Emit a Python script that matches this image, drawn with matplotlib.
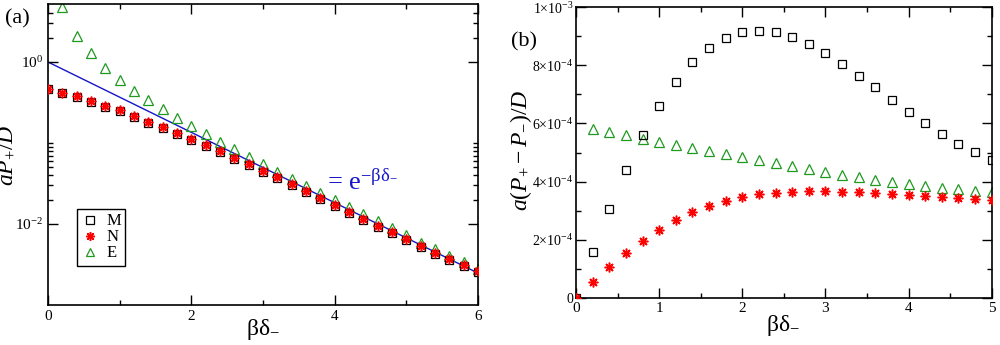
import numpy as np
import matplotlib
matplotlib.use("Agg")
import matplotlib.pyplot as plt
from matplotlib.ticker import FixedLocator, NullFormatter

plt.rcParams['font.family'] = ['Liberation Serif', 'DejaVu Serif']
plt.rcParams['mathtext.fontset'] = 'custom'
plt.rcParams['mathtext.rm'] = 'Liberation Serif'
plt.rcParams['mathtext.it'] = 'Liberation Serif:italic'
plt.rcParams['mathtext.bf'] = 'Liberation Serif:bold'
plt.rcParams['mathtext.fallback'] = 'stix'

# ---------------- data panel (a) ----------------
xa = [round(0.2 * i, 1) for i in range(31)]
Ma = [0.46, 0.41, 0.37, 0.32, 0.28, 0.245, 0.21, 0.178, 0.152, 0.129, 0.109,
      0.092, 0.077, 0.063, 0.053, 0.0443, 0.0366, 0.030, 0.0246, 0.0202, 0.0166,
      0.0138, 0.0112, 0.0093, 0.0077, 0.0063, 0.0052, 0.0043, 0.0036, 0.0030, 0.00257]
Na = [0.47, 0.42, 0.38, 0.33, 0.29, 0.252, 0.217, 0.183, 0.157, 0.133, 0.112,
      0.095, 0.079, 0.065, 0.0545, 0.0455, 0.0376, 0.031, 0.0253, 0.0207, 0.0170,
      0.0141, 0.0115, 0.0095, 0.0079, 0.0065, 0.0053, 0.0044, 0.0037, 0.0031, 0.00262]
xa_E = xa[1:]
Ea = [4.73, 2.11, 1.28, 0.85, 0.60, 0.44, 0.34, 0.263, 0.205, 0.162, 0.128, 0.104,
      0.0836, 0.0678, 0.0546, 0.0443, 0.0356, 0.0295, 0.024, 0.0196, 0.0162, 0.0133,
      0.0108, 0.0089, 0.0073, 0.0059, 0.0049, 0.0040, 0.0034, 0.0028]

# ---------------- data panel (b) ----------------
xb = [round(0.2 * i, 1) for i in range(26)]
Mb = [0.0, 1.58, 3.05, 4.40, 5.60, 6.60, 7.44, 8.10, 8.61, 8.94, 9.14, 9.19, 9.14,
      8.98, 8.73, 8.42, 8.06, 7.64, 7.24, 6.82, 6.40, 6.02, 5.65, 5.30, 5.01, 4.74]
Nb = [0.0, 0.53, 1.05, 1.53, 1.96, 2.33, 2.66, 2.94, 3.15, 3.32, 3.46, 3.56, 3.62,
      3.65, 3.66, 3.66, 3.65, 3.63, 3.61, 3.58, 3.54, 3.49, 3.46, 3.43, 3.40, 3.36]
xb_E = xb[1:]
Eb = [5.80, 5.69, 5.59, 5.48, 5.37, 5.27, 5.16, 5.05, 4.94, 4.84, 4.73, 4.63, 4.53,
      4.42, 4.33, 4.24, 4.15, 4.06, 3.98, 3.91, 3.84, 3.77, 3.73, 3.68, 3.63]
scale_b = 1e-4

yticks_b = [0, 2e-4, 4e-4, 6e-4, 8e-4, 1e-3]
yticklabels_b = ['0', r'2×10$^{-4}$', r'4×10$^{-4}$', r'6×10$^{-4}$',
                 r'8×10$^{-4}$', r'1×10$^{-3}$']

fig = plt.figure(figsize=(10, 3.45), dpi=100)
axA = fig.add_axes([0.048, 0.1159, 0.430, 0.8725])
axB = fig.add_axes([0.576, 0.1371, 0.4157, 0.8417])

mk_sq = dict(marker='s', ls='none', ms=6, mfc='none', mec='black', mew=0.9)
mk_st = dict(marker=(8, 2, 0), ls='none', ms=7, color='red', mec='red', mew=1.1)
mk_tr = dict(marker='^', ls='none', ms=7, mfc='none', mec='#1f9a1f', mew=0.9)

for ax in (axA, axB):
    for s in ax.spines.values():
        s.set_linewidth(1.2)
    ax.tick_params(which='both', direction='in', top=True, right=True,
                   labelsize=11, width=1.0)
    ax.tick_params(which='major', length=7)
    ax.tick_params(which='minor', length=3.5)

# ---- panel (a)
xl = np.linspace(0, 6, 200)
axA.plot(xl, np.exp(-xl), color='#1515c8', lw=1.0, zorder=1)
axA.plot(xa, Ma, label='M', **mk_sq, zorder=3)
axA.plot(xa, Na, label='N', **mk_st, zorder=4)
axA.plot(xa_E, Ea, label='E', **mk_tr, zorder=2)
axA.set_yscale('log')
axA.set_xlim(0, 6)
axA.set_ylim(1e-3, 5.2)
axA.set_xticks([0, 2, 4, 6])
axA.set_xticks([1, 3, 5], minor=True)
axA.xaxis.set_minor_formatter(NullFormatter())
axA.yaxis.set_major_locator(FixedLocator([1e-2, 1.0]))
axA.set_yticklabels([r'10$^{-2}$', r'10$^{0}$'])
axA.yaxis.set_minor_locator(FixedLocator([k * 1e-2 for k in range(2, 11)] + [2, 3, 4]))
axA.yaxis.set_minor_formatter(NullFormatter())
axA.text(3.9, 0.033, r'= e$^{-\mathrm{βδ}_{-}}$', color='#1515c8', fontsize=19,
         ha='left', va='center')
leg = axA.legend(loc='upper left', bbox_to_anchor=(0.068, 0.318), frameon=True,
                 fancybox=False, edgecolor='black', framealpha=1, fontsize=12,
                 handletextpad=0.5, labelspacing=0.0, borderpad=0.25,
                 handlelength=1.0, borderaxespad=0, markerscale=0.9)
leg.get_frame().set_linewidth(1.0)

# ---- panel (b)
axB.plot(xb, [v * scale_b for v in Mb], **mk_sq, zorder=3)
axB.plot(xb, [v * scale_b for v in Nb], **mk_st, zorder=4)
axB.plot(xb_E, [v * scale_b for v in Eb], **mk_tr, zorder=2)
axB.set_xlim(0, 5)
axB.set_ylim(0, 1e-3)
axB.set_xticks([0, 1, 2, 3, 4, 5])
axB.set_xticks([0.5, 1.5, 2.5, 3.5, 4.5], minor=True)
axB.xaxis.set_minor_formatter(NullFormatter())
axB.set_yticks(yticks_b)
axB.set_yticklabels(yticklabels_b)
axB.set_yticks([1e-4, 3e-4, 5e-4, 7e-4, 9e-4], minor=True)
axB.yaxis.set_minor_formatter(NullFormatter())
axB.tick_params(axis='y', labelsize=10, pad=2)
axB.tick_params(axis='x', pad=3)

# ---- labels
fig.text(0.007, 1 - 155 / 345, r'$aP_{+}/D$', rotation=90, fontsize=17,
         ha='center', va='center')
fig.text(0.263, 1 - 329 / 345, 'βδ$_{-}$', fontsize=17, ha='center', va='center')
fig.text(0.521, 1 - 150 / 345, r'$a(P_{+}-P_{-})/D$', rotation=90, fontsize=17,
         ha='center', va='center')
fig.text(0.783, 1 - 325 / 345, 'βδ$_{-}$', fontsize=17, ha='center', va='center')
fig.text(0.017, 1 - 19 / 345, '(a)', fontsize=16, ha='center', va='center')
fig.text(0.524, 1 - 42 / 345, '(b)', fontsize=16, ha='center', va='center')

fig.savefig('out.png', dpi=100)
